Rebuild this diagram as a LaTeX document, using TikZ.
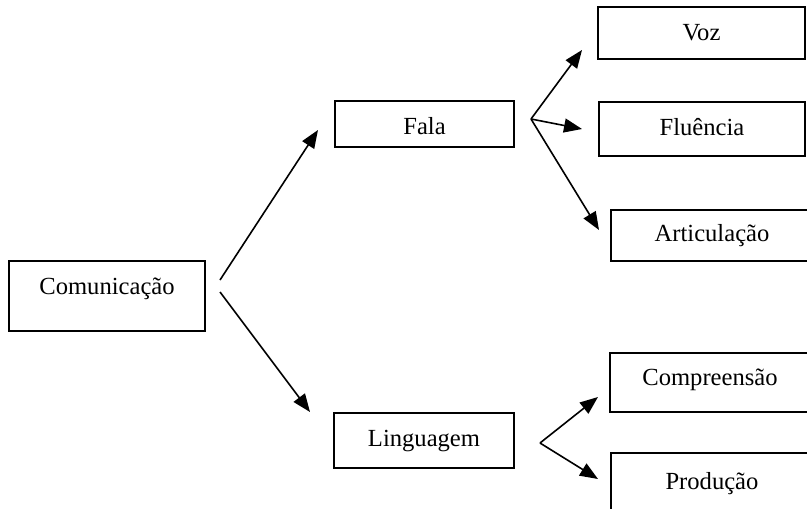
\documentclass[tikz,border=0pt]{standalone}
\usepackage{fontspec}
\setmainfont{Liberation Serif}
\usetikzlibrary{arrows.meta}

\begin{document}
\begin{tikzpicture}[x=0.5pt, y=-0.5pt,
  box/.style={draw=black, line width=1pt, fill=white, inner sep=0pt, font=\fontsize{12.3}{14}\selectfont, text height=8pt, text depth=2pt},
  arr/.style={-{Triangle[length=9pt, width=7pt]}, line width=0.8pt, black}]
  \clip (0,0) rectangle (807,508);

  %--- boxes ---
  \node[box, minimum width=98pt, minimum height=35pt, text depth=10pt] (com) at (107,296) {Comunicação};
  \node[box, minimum width=89.5pt, minimum height=23pt, text height=10pt, text depth=0pt] (fala) at (424.5,124) {Fala};
  \node[box, minimum width=90pt, minimum height=27.5pt] (ling) at (424,440.5) {Linguagem};

  \node[box, minimum width=103.5pt, minimum height=26pt, text height=9pt, text depth=1pt] (voz) at (701.5,33) {Voz};
  \node[box, minimum width=103pt, minimum height=27pt] (flu) at (702,129) {Fluência};
  \node[box, minimum width=101pt, minimum height=25.5pt] (art) at (712,235.5) {Articulação};

  \node[box, minimum width=100pt, minimum height=29.5pt, text depth=5pt] (comp) at (710,382.5) {Compreensão};
  \node[box, minimum width=101pt, minimum height=30pt] (prod) at (712,483) {Produção};

  %--- arrow ends ---
  \coordinate (comUp) at (220,280);
  \coordinate (comDown) at (220,292);
  \coordinate (falaIn) at (318,130);
  \coordinate (lingIn) at (310,412);
  \coordinate (falaOut) at (531,119);
  \coordinate (vozIn) at (582,50);
  \coordinate (fluIn) at (582,129);
  \coordinate (artIn) at (599,230);
  \coordinate (lingOut) at (540,443);
  \coordinate (compIn) at (598,397);
  \coordinate (prodIn) at (598,479);

  %--- arrows ---
  \draw[arr] (comUp) -- (falaIn);
  \draw[arr] (comDown) -- (lingIn);
  \draw[arr] (falaOut) -- (vozIn);
  \draw[arr] (falaOut) -- (fluIn);
  \draw[arr] (falaOut) -- (artIn);
  \draw[arr] (lingOut) -- (compIn);
  \draw[arr] (lingOut) -- (prodIn);
\end{tikzpicture}
\end{document}
